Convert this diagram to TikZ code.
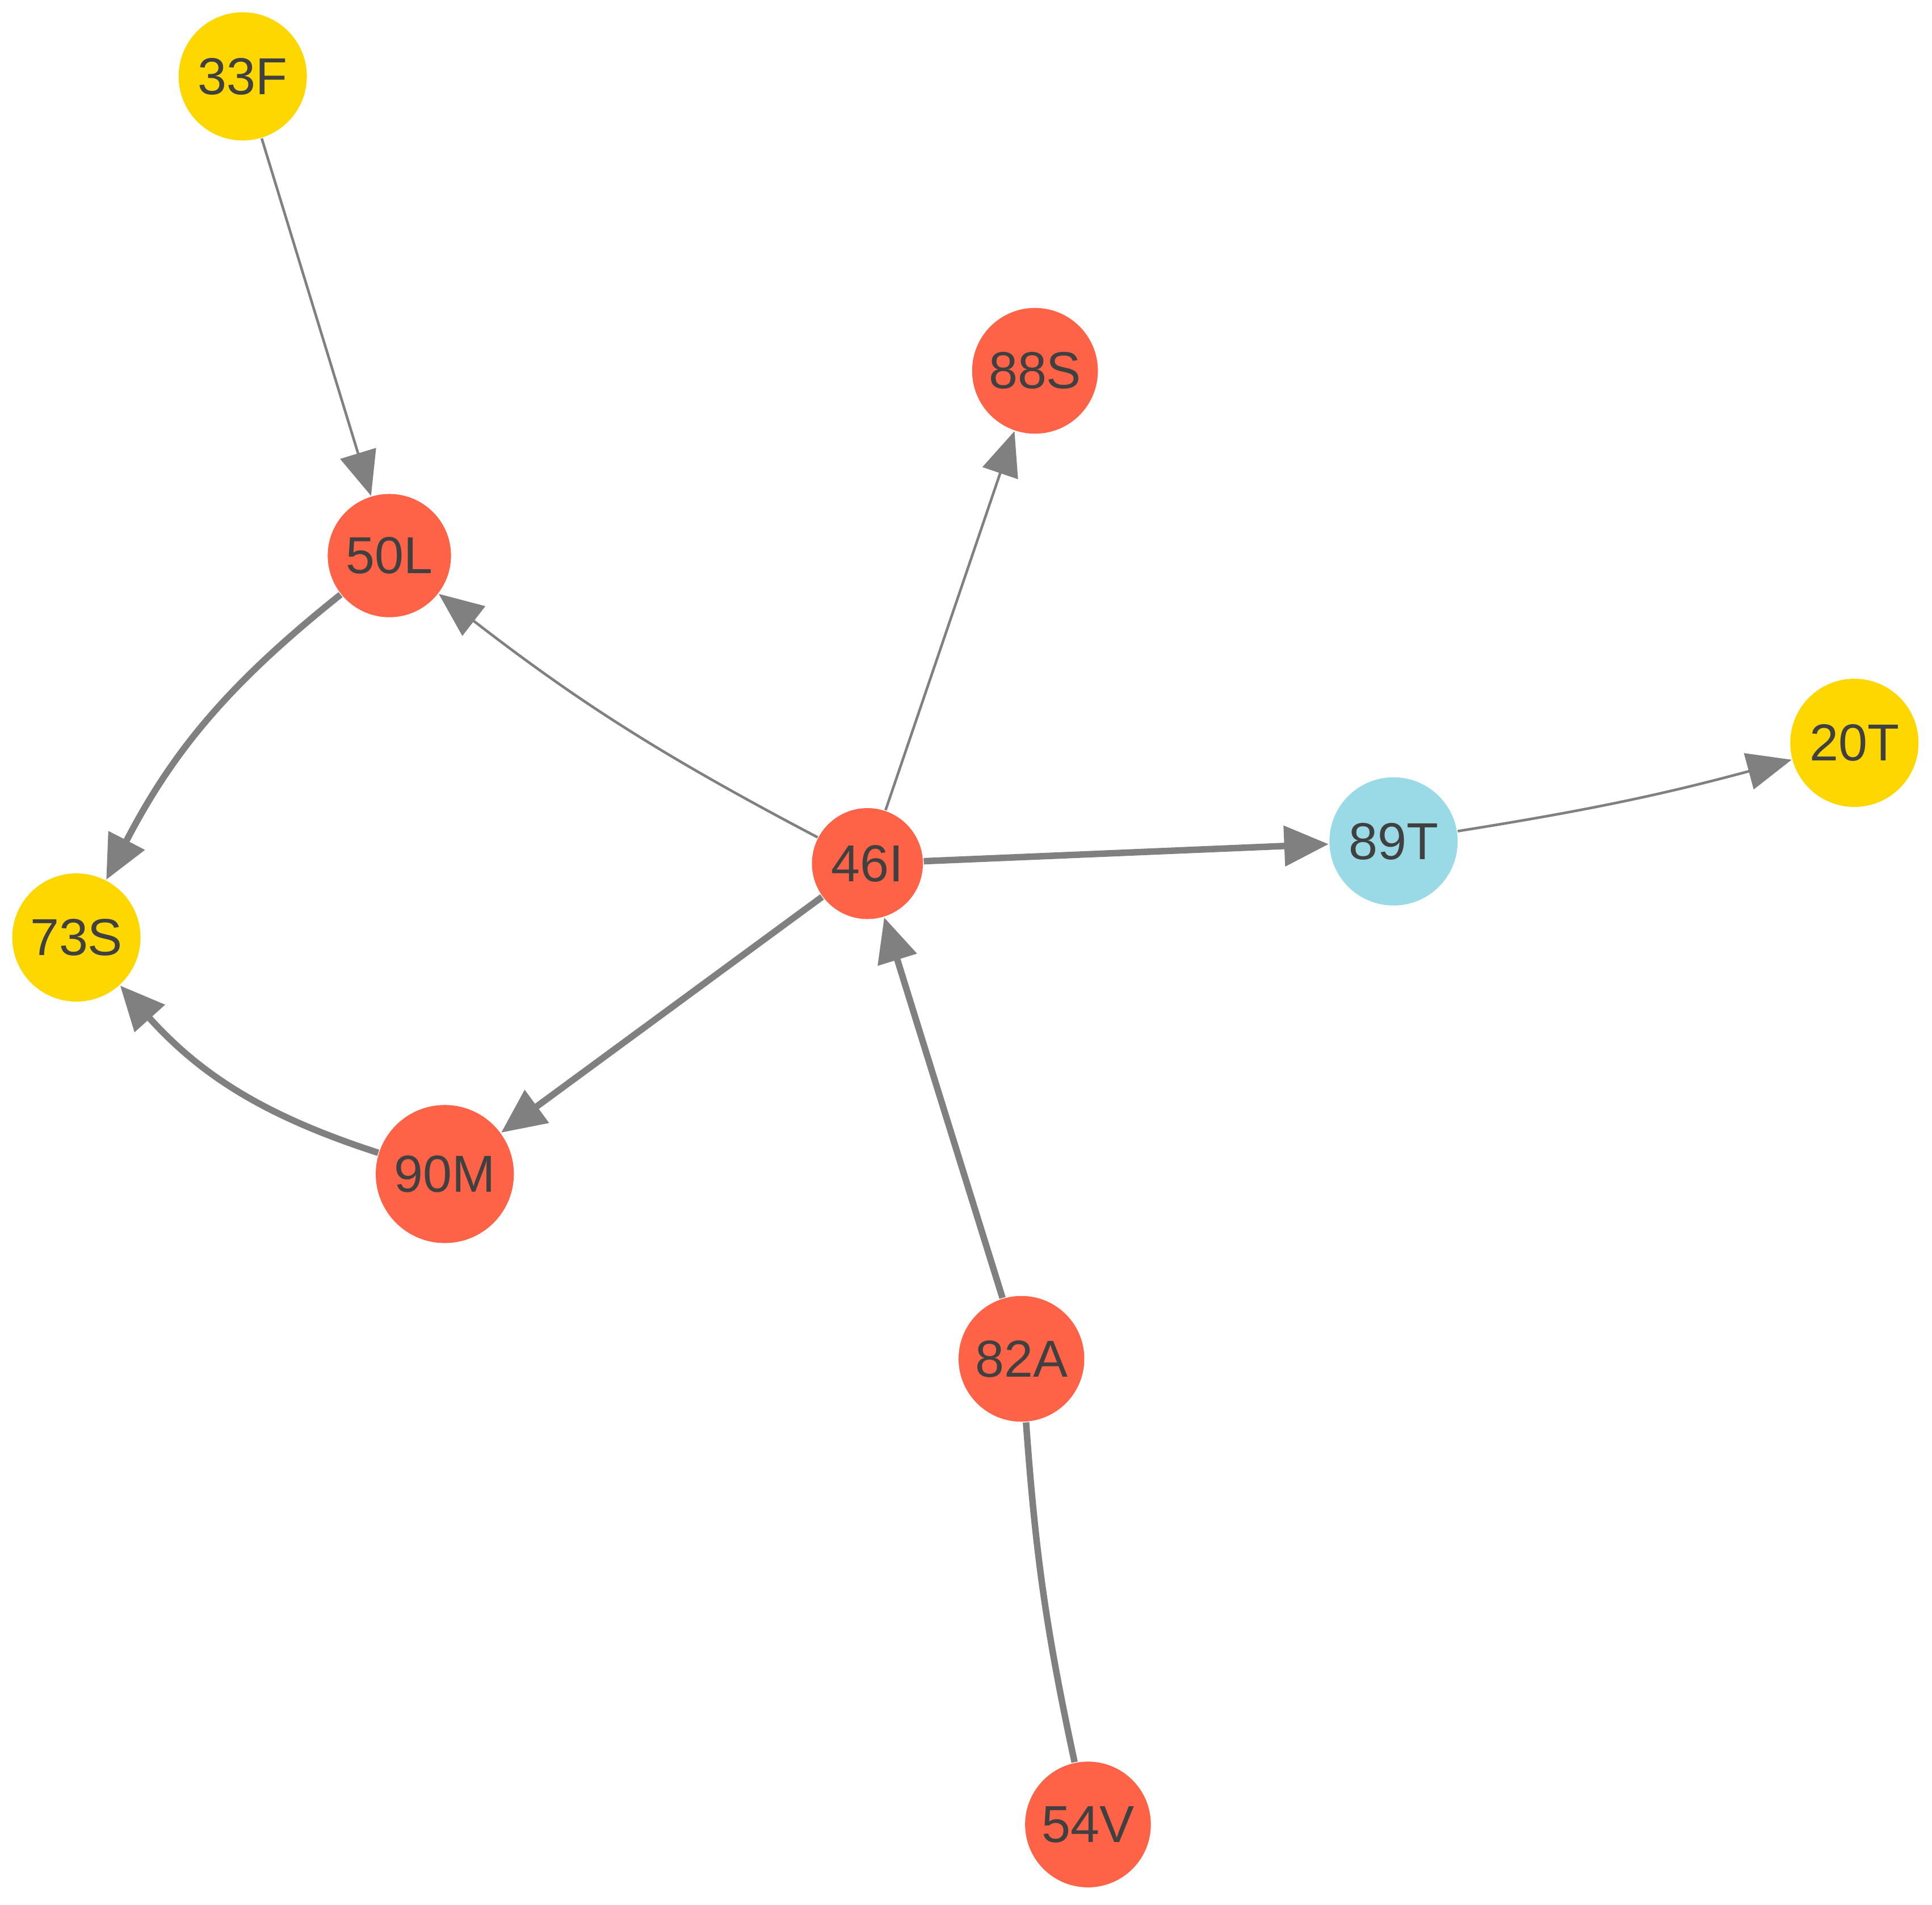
\documentclass[tikz,border=0pt]{standalone}
\usepackage{fontspec}
\setmainfont{Liberation Sans}
\usetikzlibrary{arrows.meta}
\definecolor{nred}{HTML}{FF6347}
\definecolor{nyel}{HTML}{FFD700}
\definecolor{nblu}{HTML}{99DAE6}
\definecolor{egray}{HTML}{808080}
\begin{document}
\begin{tikzpicture}[x=0.01cm,y=-0.01cm,
  nd/.style={circle,inner sep=0pt,text=black!75,font=\fontsize{12}{14}\selectfont},
  r/.style={nd,fill=nred,minimum size=1.02cm},
  yl/.style={nd,fill=nyel,minimum size=1.04cm},
  bl/.style={nd,fill=nblu,minimum size=1.04cm},
  thin/.style={draw=egray,line width=0.6pt,-{Triangle[length=0.36cm,width=0.3cm]}},
  thick/.style={draw=egray,line width=1.5pt,-{Triangle[length=0.36cm,width=0.32cm]}}]
\useasboundingbox (0,0) rectangle (1568,1546);
\node[yl] (33F) at (197,62) {33F};
\node[r]  (88S) at (840,301) {88S};
\node[r,minimum size=1.0cm]  (50L) at (316,451) {50L};
\node[yl] (20T) at (1505,603) {20T};
\node[r,minimum size=0.9cm]  (46I) at (704,701) {46I};
\node[bl] (89T) at (1131,683) {89T};
\node[yl] (73S) at (62,761) {73S};
\node[r,minimum size=1.12cm]  (90M) at (361,953) {90M};
\node[r]  (82A) at (829,1103) {82A};
\node[r]  (54V) at (883,1481) {54V};
\draw[thin] (33F) -- (50L);
\draw[thin] (46I) to[bend left=5] (50L);
\draw[thin] (46I) -- (88S);
\draw[thick] (46I) -- (89T);
\draw[thin] (89T) to[bend left=-3] (20T);
\draw[thick] (50L) to[bend right=12] (73S);
\draw[thick] (90M) to[bend left=15] (73S);
\draw[thick] (46I) -- (90M);
\draw[thick] (82A) -- (46I);
\draw[draw=egray,line width=1.5pt] (54V) to[bend left=4] (82A);
\end{tikzpicture}
\end{document}
